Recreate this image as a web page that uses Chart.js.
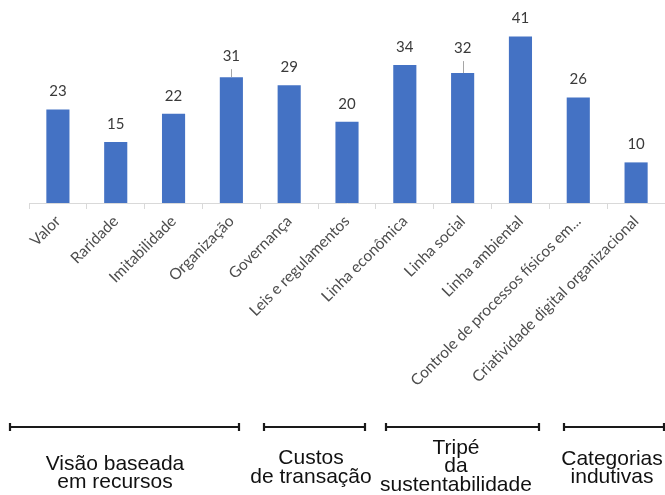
<!DOCTYPE html>
<html>
<head>
<meta charset="utf-8">
<script src="https://cdn.jsdelivr.net/npm/chart.js@4"></script>
<style>
  body { margin: 0; background: #fff; }
  #wrap { width: 665px; height: 495px; }
</style>
</head>
<body>
<div id="wrap"><canvas id="barChart"></canvas></div>
<script>
const categorias = [
  'Valor', 'Raridade', 'Imitabilidade', 'Organização', 'Governança',
  'Leis e regulamentos', 'Linha econômica', 'Linha social', 'Linha ambiental',
  'Controle de processos físicos em...', 'Criatividade digital organizacional'
];
const frequencia = [23, 15, 22, 31, 29, 20, 34, 32, 41, 26, 10];
const grupos = [
  ['Visão baseada', 'em recursos'],
  ['Custos', 'de transação'],
  ['Tripé', 'da', 'sustentabilidade'],
  ['Categorias', 'indutivas']
];

// posição das chaves e textos dos grupos (px)
const chaves = [
  { x1: 10, x2: 239, cx: 115, base: [470, 488] },
  { x1: 264, x2: 365, cx: 311, base: [464, 483] },
  { x1: 386, x2: 539, cx: 456, base: [454, 472, 491] },
  { x1: 564, x2: 664, cx: 612, base: [465, 483] }
];
const chaveY = 427;

// rótulos deslocados com linha de chamada (índice -> px extra)
const elevar = { 3: 3, 7: 7 };

const rotulos = {
  id: 'rotulos',
  afterDatasetsDraw(chart) {
    const { ctx } = chart;
    const meta = chart.getDatasetMeta(0);
    ctx.save();
    ctx.font = '15px Lato';
    ctx.fillStyle = '#3a3a3a';
    ctx.textAlign = 'center';
    ctx.textBaseline = 'middle';
    meta.data.forEach((bar, i) => {
      const lift = elevar[i] || 0;
      ctx.fillText(String(frequencia[i]), bar.x, bar.y - 18 - lift);
      if (lift) {
        ctx.strokeStyle = '#a6a6a6';
        ctx.lineWidth = 1;
        ctx.beginPath();
        ctx.moveTo(Math.round(bar.x) + 0.5, bar.y - 5 - lift);
        ctx.lineTo(Math.round(bar.x) + 0.5, bar.y);
        ctx.stroke();
      }
    });
    ctx.restore();
  }
};

const gruposPlugin = {
  id: 'grupos',
  afterDraw(chart) {
    const { ctx } = chart;
    ctx.save();
    ctx.strokeStyle = '#1a1a1a';
    ctx.lineWidth = 2.2;
    ctx.fillStyle = '#111';
    ctx.font = '21px "Liberation Sans", Arial, sans-serif';
    ctx.textAlign = 'center';
    ctx.textBaseline = 'alphabetic';
    chaves.forEach((c, i) => {
      ctx.beginPath();
      ctx.moveTo(c.x1, chaveY);
      ctx.lineTo(c.x2, chaveY);
      ctx.moveTo(c.x1, chaveY - 4);
      ctx.lineTo(c.x1, chaveY + 4);
      ctx.moveTo(c.x2, chaveY - 4);
      ctx.lineTo(c.x2, chaveY + 4);
      ctx.stroke();
      grupos[i].forEach((linha, j) => ctx.fillText(linha, c.cx, c.base[j]));
    });
    ctx.restore();
  }
};

new Chart(document.getElementById('barChart'), {
  type: 'bar',
  data: {
    labels: categorias,
    datasets: [{
      data: frequencia,
      backgroundColor: '#4472c4',
      categoryPercentage: 1,
      barPercentage: 0.4
    }]
  },
  options: {
    responsive: true,
    maintainAspectRatio: false,
    animation: false,
    layout: { padding: { left: 29, right: 0, top: 0, bottom: 0 } },
    plugins: { legend: { display: false }, tooltip: { enabled: false } },
    scales: {
      x: {
        afterFit: s => { s.height = 292; },
        border: { color: '#d9d9d9' },
        grid: { drawOnChartArea: false, color: '#d9d9d9', tickLength: 6 },
        ticks: {
          autoSkip: false,
          maxRotation: 45,
          minRotation: 45,
          color: '#4d4d4d',
          font: { family: 'Lato', size: 15.5 }
        }
      },
      y: { display: false, min: 0, max: 50 }
    }
  },
  plugins: [rotulos, gruposPlugin]
});
</script>
</body>
</html>
